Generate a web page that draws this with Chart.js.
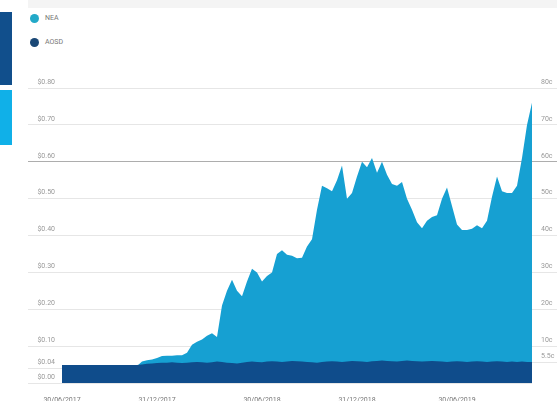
<!DOCTYPE html>
<html>
<head>
<meta charset="utf-8">
<script src="https://cdn.jsdelivr.net/npm/chart.js@4.4.1/dist/chart.umd.min.js"></script>
<style>
    html, body { margin: 0; padding: 0; background: #fff; width: 557px; height: 401px; overflow: hidden; font-family: Roboto, "Noto Sans", sans-serif; }
    .side-dark { position: absolute; left: 0; top: 12px; width: 12px; height: 73px; background: #114f8c; }
    .side-cyan { position: absolute; left: 0; top: 90px; width: 12px; height: 55px; background: #10b0e8; }
    .top-strip { position: absolute; left: 28px; top: 0; width: 529px; height: 8px; background: #f4f4f4; }
    #legend { position: absolute; left: 30px; top: 12px; font-size: 7px; color: #777; }
    #legend div { height: 12px; line-height: 12px; margin-bottom: 12px; display: flex; align-items: center; }
    #legend span.dot { width: 9px; height: 9px; border-radius: 50%; display: inline-block; margin-right: 6px; }
    .wrap { position: absolute; left: 28px; top: 55px; width: 529px; height: 346px; }
</style>
</head>
<body>
<div class="side-dark"></div>
<div class="side-cyan"></div>
<div class="top-strip"></div>
<div id="legend"></div>
<div class="wrap"><canvas id="price_chart"></canvas></div>
<script>
// series, one value per ~9 days
const nea = [
    0.045, 0.045, 0.045, 0.045, 0.045, 0.045, 0.045, 0.045, 0.045, 0.045,
    0.045, 0.045, 0.045, 0.045, 0.045, 0.046, 0.058, 0.062, 0.064, 0.068,
    0.073, 0.074, 0.074, 0.075, 0.075, 0.082, 0.104, 0.112, 0.118, 0.128,
    0.135, 0.125, 0.21, 0.25, 0.28, 0.25, 0.235, 0.275, 0.31, 0.30,
    0.275, 0.29, 0.30, 0.35, 0.36, 0.348, 0.345, 0.338, 0.34, 0.37,
    0.39, 0.47, 0.535, 0.528, 0.52, 0.55, 0.59, 0.50, 0.515, 0.56,
    0.60, 0.585, 0.61, 0.57, 0.60, 0.565, 0.54, 0.535, 0.545, 0.50,
    0.47, 0.436, 0.42, 0.44, 0.45, 0.455, 0.50, 0.53, 0.48, 0.43,
    0.415, 0.415, 0.418, 0.428, 0.42, 0.44, 0.505, 0.56, 0.52, 0.515,
    0.515, 0.535, 0.61, 0.70, 0.76
];
const aosd = [
    0.049, 0.049, 0.049, 0.049, 0.049, 0.049, 0.049, 0.049, 0.049, 0.049,
    0.049, 0.049, 0.049, 0.049, 0.049, 0.049, 0.05, 0.052, 0.053, 0.054,
    0.055, 0.055, 0.056, 0.055, 0.054, 0.055, 0.056, 0.057, 0.056, 0.055,
    0.056, 0.058, 0.057, 0.055, 0.054, 0.053, 0.055, 0.057, 0.058, 0.057,
    0.056, 0.058, 0.059, 0.058, 0.057, 0.058, 0.06, 0.059, 0.058, 0.057,
    0.056, 0.055, 0.057, 0.058, 0.059, 0.058, 0.057, 0.058, 0.06, 0.059,
    0.058, 0.057, 0.059, 0.06, 0.061, 0.06, 0.059, 0.058, 0.06, 0.061,
    0.06, 0.059, 0.058, 0.059, 0.06, 0.059, 0.058, 0.057, 0.058, 0.059,
    0.058, 0.057, 0.058, 0.059, 0.058, 0.057, 0.058, 0.059, 0.058, 0.057,
    0.058, 0.057, 0.058, 0.057, 0.057
];

const xTickLabels = ['30/06/2017', '31/12/2017', '30/06/2018', '31/12/2018', '30/06/2019'];
const xTickIndex = [0, 19, 40, 59, 79];
const leftTicks = [0, 0.04, 0.1, 0.2, 0.3, 0.4, 0.5, 0.6, 0.7, 0.8];
const rightTicks = [0.055, 0.1, 0.2, 0.3, 0.4, 0.5, 0.6, 0.7, 0.8];

const seriesNames = ['NEA', 'AOSD'];
const seriesColors = ['#16a0d2', '#0f4c8b'];
const legendColors = ['#22a9c8', '#1a4876'];

// html legend, stacked like the original
const legendBox = document.getElementById('legend');
seriesNames.forEach((name, i) => {
    const row = document.createElement('div');
    row.innerHTML = '<span class="dot" style="background:' + legendColors[i] + '"></span>' + name;
    legendBox.appendChild(row);
});

const tickFont = { family: 'Roboto', size: 7 };
const gridColor = (ctx) => (ctx.tick && ctx.tick.value === 0.6) ? '#adadad' : '#e6e6e6';

const data = {
    labels: nea.map((v, i) => i),
    datasets: [{
        label: seriesNames[0],
        data: nea.map((v, i) => ({ x: i, y: v })),
        backgroundColor: seriesColors[0],
        borderWidth: 0,
        pointRadius: 0,
        fill: 'origin',
        tension: 0,
        order: 2
    }, {
        label: seriesNames[1],
        data: aosd.map((v, i) => ({ x: i, y: v })),
        backgroundColor: seriesColors[1],
        borderWidth: 0,
        pointRadius: 0,
        fill: 'origin',
        tension: 0,
        order: 1
    }]
};

const config = {
    type: 'line',
    data: data,
    options: {
        responsive: true,
        maintainAspectRatio: false,
        animation: false,
        layout: { padding: { top: 33 } },
        plugins: {
            legend: { display: false },
            tooltip: { enabled: false }
        },
        scales: {
            x: {
                type: 'linear',
                min: 0,
                max: nea.length - 1,
                grid: { display: false },
                border: { display: false },
                afterBuildTicks: (scale) => { scale.ticks = xTickIndex.map(v => ({ value: v })); },
                afterFit: (scale) => { scale.height = 18; },
                ticks: {
                    autoSkip: false,
                    maxRotation: 0,
                    padding: 5,
                    color: '#777',
                    font: tickFont,
                    callback: (value) => xTickLabels[xTickIndex.indexOf(value)]
                }
            },
            y: {
                position: 'left',
                min: 0,
                max: 0.8,
                border: { display: false },
                grid: { color: gridColor, tickColor: gridColor, tickLength: 34, lineWidth: 1 },
                afterBuildTicks: (scale) => { scale.ticks = leftTicks.map(v => ({ value: v })); },
                afterFit: (scale) => { scale.width = 34; },
                ticks: {
                    padding: -27,
                    labelOffset: -6,
                    color: '#999',
                    font: tickFont,
                    callback: (value) => '$' + value.toFixed(2)
                }
            },
            y2: {
                position: 'right',
                min: 0,
                max: 0.8,
                border: { display: false },
                grid: { drawOnChartArea: false, color: gridColor, tickColor: gridColor, tickLength: 25 },
                afterBuildTicks: (scale) => { scale.ticks = rightTicks.map(v => ({ value: v })); },
                afterFit: (scale) => { scale.width = 25; },
                ticks: {
                    padding: -16,
                    labelOffset: -6,
                    color: '#999',
                    font: tickFont,
                    callback: (value) => (value * 100).toFixed(value < 0.1 ? 1 : 0) + 'c'
                }
            }
        }
    }
};

const priceChart = new Chart(document.getElementById('price_chart'), config);
</script>
</body>
</html>
